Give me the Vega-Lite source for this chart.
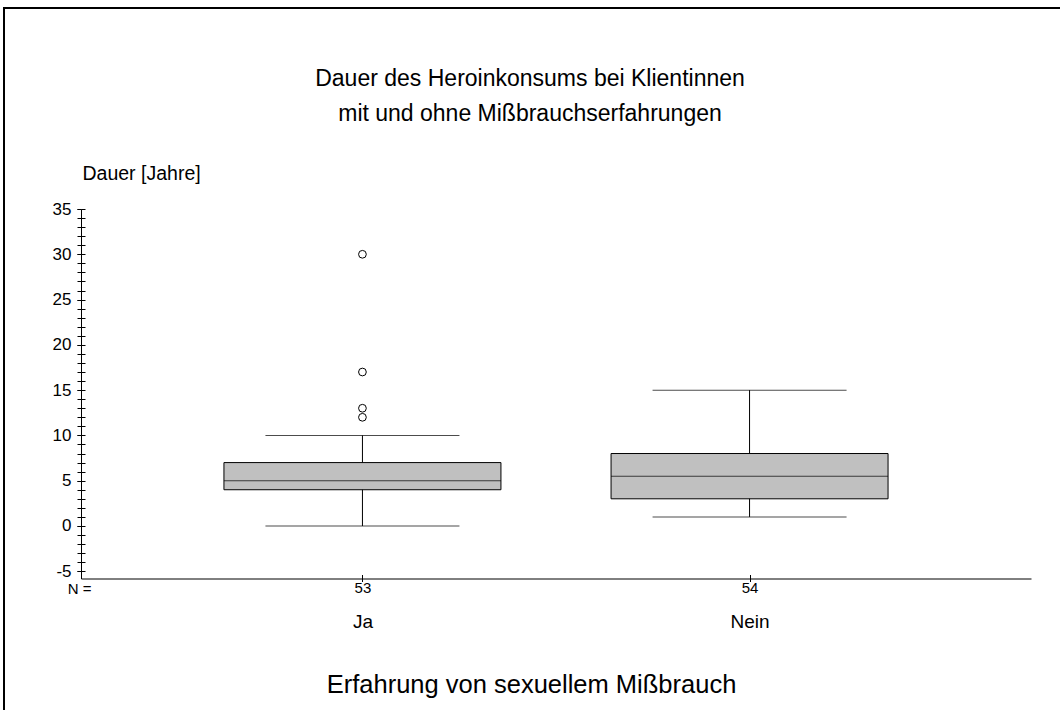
{
  "$schema": "https://vega.github.io/schema/vega-lite/v6.json",
  "width": 1056,
  "height": 702,
  "autosize": "none",
  "padding": {"left": 4, "top": 8, "right": 0, "bottom": 0},
  "background": "white",
  "title": {
    "text": ["Dauer des Heroinkonsums bei Klientinnen", "mit und ohne Mißbrauchserfahrungen"],
    "fontSize": 23,
    "fontWeight": "normal",
    "font": "Liberation Sans",
    "color": "black",
    "lineHeight": 35,
    "anchor": "middle",
    "baseline": "top",
    "offset": -118,
    "dx": -2
  },
  "datasets": {
    "boxen": [
      {"gruppe": "Ja", "n": "53", "unten": 0, "q1": 4, "median": 5, "q3": 7, "oben": 10},
      {"gruppe": "Nein", "n": "54", "unten": 1, "q1": 3, "median": 5.5, "q3": 8, "oben": 15}
    ],
    "ausreisser": [
      {"gruppe": "Ja", "dauer": 12},
      {"gruppe": "Ja", "dauer": 13},
      {"gruppe": "Ja", "dauer": 17},
      {"gruppe": "Ja", "dauer": 30}
    ]
  },
  "layer": [
    {
      "data": {"name": "boxen"},
      "mark": {"type": "rule", "color": "black", "strokeWidth": 1},
      "encoding": {
        "x": {
          "field": "gruppe", "type": "nominal",
          "scale": {"type": "point", "domain": ["Ja", "Nein"], "range": [77, 1027], "padding": 0.727},
          "axis": {
            "orient": "bottom", "offset": -131.5,
            "title": "Erfahrung von sexuellem Mißbrauch",
            "titleFontSize": 25.5, "titleX": 527, "titleY": 105.5,
            "titleAlign": "center", "titleBaseline": "middle",
            "labelFontSize": 19, "labelPadding": 38, "labelAngle": 0,
            "tickSize": -4, "domain": true, "domainWidth": 1
          }
        },
        "y": {
          "field": "unten", "type": "quantitative",
          "scale": {"domain": [-5.8, 35], "range": [570.5, 201], "nice": false, "zero": false},
          "axis": {
            "orient": "left", "offset": -77,
            "values": [-5, 0, 5, 10, 15, 20, 25, 30, 35],
            "labelExpr": "toString(datum.value)",
            "labelFontSize": 17, "labelPadding": 6, "tickSize": 4,
            "domain": true, "domainWidth": 1,
            "title": "Dauer [Jahre]", "titleFontSize": 19.5, "titleAngle": 0,
            "titleAlign": "left", "titleBaseline": "middle", "titleX": 1, "titleY": 165
          }
        },
        "y2": {"field": "oben"}
      }
    },
    {
      "data": {"name": "boxen"},
      "mark": {"type": "bar", "size": 277, "fill": "#c0c0c0", "stroke": "black", "strokeWidth": 1},
      "encoding": {
        "x": {
          "field": "gruppe", "type": "nominal",
          "scale": {"type": "point", "domain": ["Ja", "Nein"], "range": [77, 1027], "padding": 0.727},
          "axis": null
        },
        "y": {
          "field": "q1", "type": "quantitative",
          "axis": {
            "orient": "left", "offset": -77,
            "values": [-5, -4, -3, -2, -1, 0, 1, 2, 3, 4, 5, 6, 7, 8, 9, 10, 11, 12, 13, 14, 15, 16, 17, 18, 19, 20, 21, 22, 23, 24, 25, 26, 27, 28, 29, 30, 31, 32, 33, 34, 35],
            "labels": false, "domain": false, "tickSize": 4, "title": null
          }
        },
        "y2": {"field": "q3"}
      }
    },
    {
      "data": {"name": "boxen"},
      "mark": {"type": "tick", "size": 277, "thickness": 1, "color": "black"},
      "encoding": {
        "x": {
          "field": "n", "type": "nominal",
          "scale": {"type": "point", "domain": ["53", "54"], "range": [77, 1027], "padding": 0.727},
          "axis": {
            "orient": "bottom", "offset": -131.5,
            "title": "N =", "titleFontSize": 15, "titleAngle": 0,
            "titleX": 87, "titleY": 10, "titleAlign": "right", "titleBaseline": "middle",
            "labelFontSize": 15, "labelPadding": -1, "labelAngle": 0,
            "tickSize": 3, "domain": false
          }
        },
        "y": {
          "field": "median", "type": "quantitative",
          "axis": {
            "orient": "left", "offset": -77,
            "values": [-5, -4, -3, -2, -1, 0, 1, 2, 3, 4, 5, 6, 7, 8, 9, 10, 11, 12, 13, 14, 15, 16, 17, 18, 19, 20, 21, 22, 23, 24, 25, 26, 27, 28, 29, 30, 31, 32, 33, 34, 35],
            "labels": false, "domain": false, "tickSize": -4, "title": null
          }
        }
      }
    },
    {
      "data": {"name": "boxen"},
      "mark": {"type": "tick", "size": 194, "thickness": 1, "color": "black"},
      "encoding": {
        "x": {
          "field": "gruppe", "type": "nominal",
          "scale": {"type": "point", "domain": ["Ja", "Nein"], "range": [77, 1027], "padding": 0.727},
          "axis": null
        },
        "y": {"field": "unten", "type": "quantitative", "axis": null}
      }
    },
    {
      "data": {"name": "boxen"},
      "mark": {"type": "tick", "size": 194, "thickness": 1, "color": "black"},
      "encoding": {
        "x": {
          "field": "gruppe", "type": "nominal",
          "scale": {"type": "point", "domain": ["Ja", "Nein"], "range": [77, 1027], "padding": 0.727},
          "axis": null
        },
        "y": {"field": "oben", "type": "quantitative", "axis": null}
      }
    },
    {
      "data": {"name": "ausreisser"},
      "mark": {"type": "point", "shape": "circle", "size": 60, "filled": true, "fill": "white", "stroke": "black", "strokeWidth": 1, "opacity": 1},
      "encoding": {
        "x": {
          "field": "gruppe", "type": "nominal",
          "scale": {"type": "point", "domain": ["Ja", "Nein"], "range": [77, 1027], "padding": 0.727},
          "axis": null
        },
        "y": {"field": "dauer", "type": "quantitative", "axis": null}
      }
    }
  ],
  "resolve": {
    "scale": {"x": "independent"},
    "axis": {"x": "independent", "y": "independent"}
  },
  "config": {
    "font": "Liberation Sans",
    "view": {"stroke": "black", "strokeWidth": 2, "strokeDash": [1056, 1758, 702]},
    "axis": {
      "grid": false,
      "domainColor": "black",
      "tickColor": "black",
      "labelColor": "black",
      "titleColor": "black",
      "labelFont": "Liberation Sans",
      "titleFont": "Liberation Sans",
      "titleFontWeight": "normal"
    }
  }
}
